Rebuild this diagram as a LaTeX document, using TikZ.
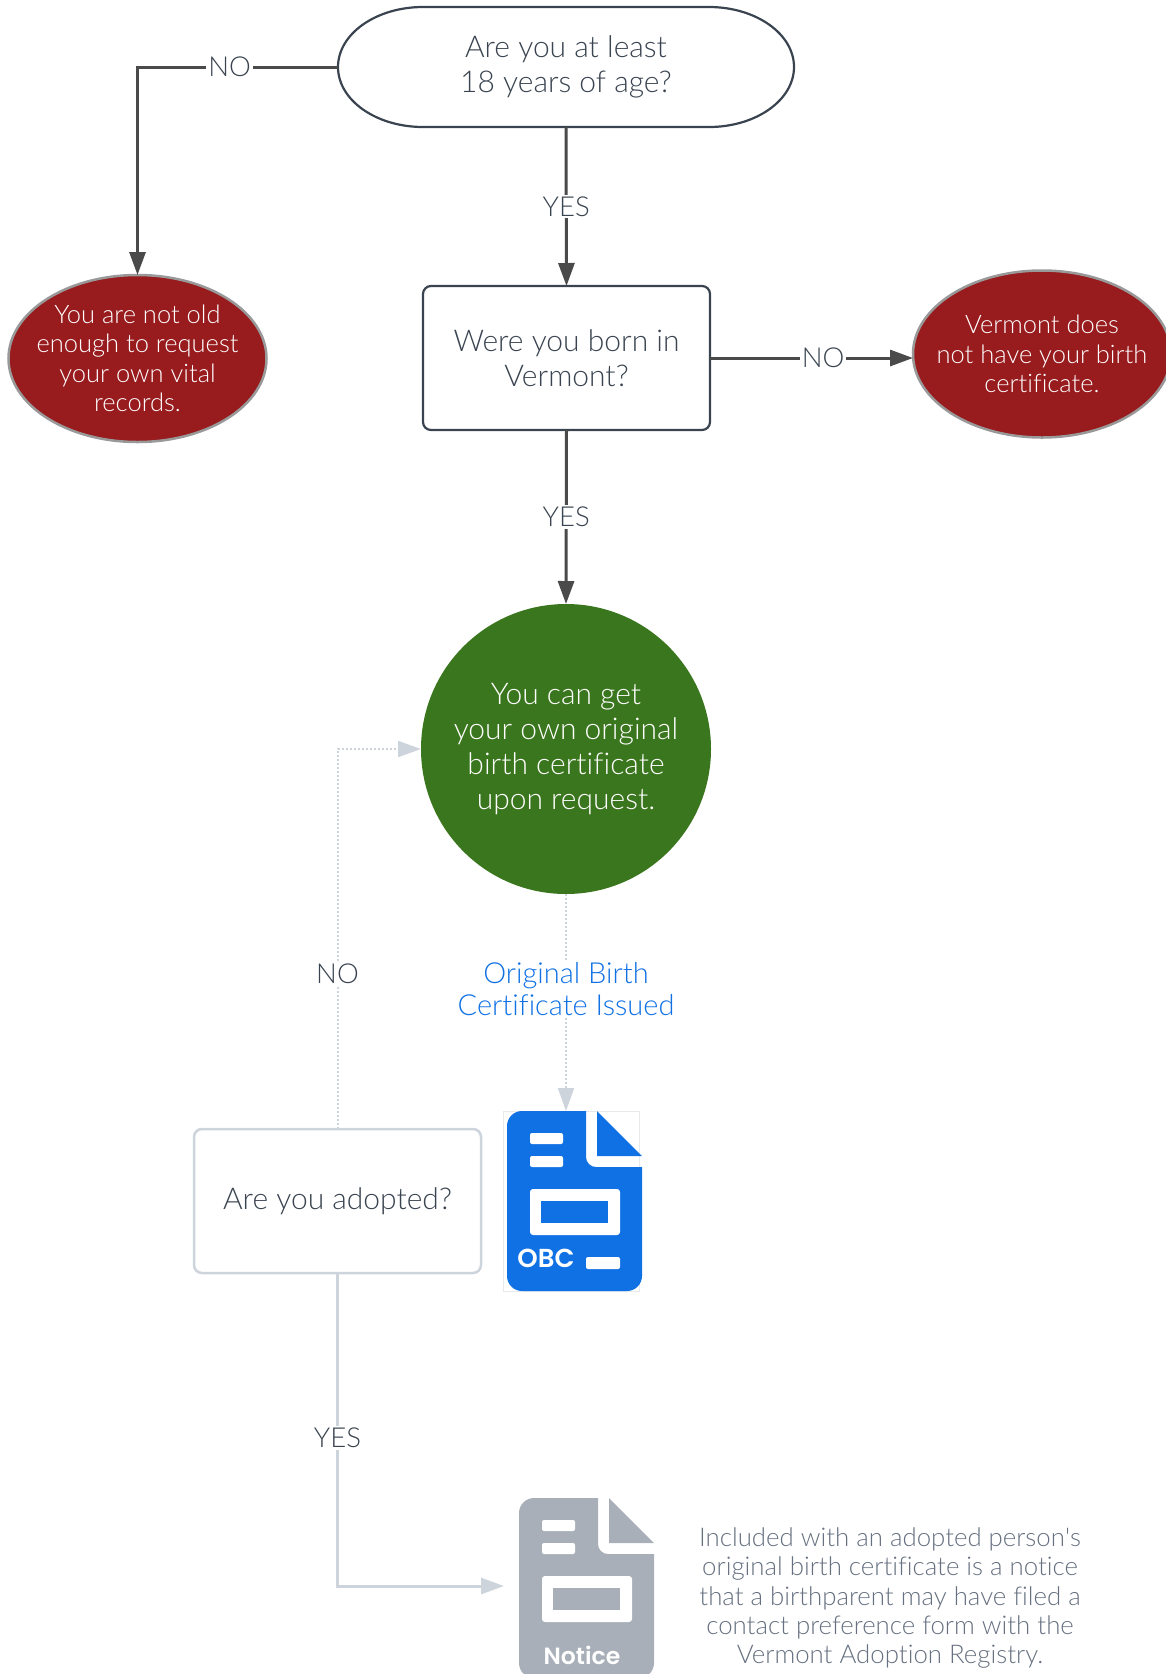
\documentclass[tikz,border=0pt]{standalone}
\usepackage{fontspec}
\setmainfont{Lato}[UprightFont=* Light,BoldFont=* Bold,Ligatures=NoCommon]
\newfontfamily\iconfont{Poppins}[UprightFont=* SemiBold]
\usetikzlibrary{arrows.meta,shapes.geometric}

\definecolor{inkdark}{HTML}{3A4450}
\definecolor{linedark}{HTML}{4A4A4A}
\definecolor{linelight}{HTML}{CED4DC}
\definecolor{redstop}{HTML}{981B1E}
\definecolor{greengo}{HTML}{3A761D}
\definecolor{blueobc}{HTML}{1071E5}
\definecolor{greydoc}{HTML}{A9AFB9}
\definecolor{greytext}{HTML}{667080}

\tikzset{
  question/.style={draw=inkdark, line width=2.2pt, rounded corners=8pt, fill=white, align=center,
    text=inkdark, minimum width=287pt, minimum height=144pt, inner sep=0pt, outer sep=0pt,
    font=\fontsize{30}{35}\selectfont},
  stopnode/.style={ellipse, draw=black!40, fill=redstop, line width=2.5pt, text=white, align=center,
    minimum width=258pt, minimum height=167pt, inner xsep=-30pt, inner ysep=-8pt, outer sep=0pt,
    font=\fontsize{25.5}{29.4}\selectfont},
  edgelabel/.style={fill=white, text=inkdark, inner sep=2pt, font=\fontsize{27.5}{30}\selectfont},
  darkline/.style={draw=linedark, line width=3pt, -{Triangle[length=23pt,width=16pt]}},
  lightline/.style={draw=linelight, line width=3pt, -{Triangle[length=23pt,width=16pt]}},
  dotline/.style={draw=linelight, line width=2pt, dotted, -{Triangle[length=23pt,width=16pt,fill=linelight]}},
}

\newcommand{\DocIcon}[3]{%
  \begin{scope}[shift={(#1,#2)}]
    \fill[#3] (0,90) [rounded corners=15pt] -- (0,0) [sharp corners] -- (79,0)
      [rounded corners=10pt] -- (79,56) [sharp corners] -- (135,56)
      [rounded corners=15pt] -- (135,180) -- (0,180) [sharp corners] -- cycle;
    \fill[#3] (90,0) -- (135,45) -- (90,45) -- cycle;
    \foreach \y in {22,45}
      \fill[white, rounded corners=2pt] (23,\y) rectangle (56,\y+11);
    \fill[white, rounded corners=3pt] (23,78) rectangle (113,124);
    \fill[#3] (34,90) rectangle (101,112);
  \end{scope}}

\begin{document}
\begin{tikzpicture}[x=1pt,y=-1pt]
\useasboundingbox (0,0) rectangle (1166,1674);

\node[question, draw=none, minimum width=456pt, minimum height=120pt, rounded corners=0pt] (age) at (566,67)
  {Are you at least\\18 years of age?};
\draw[draw=inkdark, line width=2.2pt] (age.north west) ++(85,0) -- ([xshift=-85pt]age.north east)
  arc[start angle=90, end angle=-90, x radius=85pt, y radius=60pt]
  -- ([xshift=85pt]age.south west)
  arc[start angle=270, end angle=90, x radius=85pt, y radius=60pt] -- cycle;
\node[question] (born) at (566.5,358) {Were you born in\\Vermont?};
\node[stopnode] (young) at (137.5,358.5) {You are not old\\enough to request\\your own vital\\records.};
\node[stopnode] (nocert) at (1042,354) {Vermont does\\not have your birth\\certificate.};
\node[circle, fill=greengo, text=white, align=center, minimum size=290pt, inner sep=-25pt, outer sep=0pt,
  font=\fontsize{30}{35}\selectfont] (issue) at (566,749)
  {You can get\\your own original\\birth certificate\\upon request.};
\node[question, draw=linelight, line width=2.5pt] (adopted) at (337.5,1201) {Are you adopted?};

% icons
\node[draw=linelight!50, line width=0.6pt, inner sep=0pt, outer sep=0pt, minimum width=136pt, minimum height=180pt] (obc) at (571,1201) {};
\DocIcon{507}{1111}{blueobc}
\fill[white, rounded corners=2pt] (586,1257) rectangle (620,1269);
\node[text=white, font=\fontsize{26}{30}\iconfont] (obclabel) at (546,1258) {OBC};
\DocIcon{519}{1498}{greydoc}
\node[text=white, font=\fontsize{23.5}{30}\iconfont] (noticelabel) at (582,1655) {Notice};
\coordinate (noticein) at (504,1586);

\node[text=greytext, align=center, font=\fontsize{25.8}{29.4}\selectfont] (notetext) at (890,1598)
  {Included with an adopted person\textquotesingle s\\original birth certificate is a notice\\that a birthparent may have filed a\\contact preference form with the\\Vermont Adoption Registry.};

% connectors
\draw[darkline] (age.west) -| (young.north) node[pos=0.27, edgelabel] (no1) {NO};
\draw[darkline] (age.south) -- (born.north) node[pos=0.5, edgelabel] (yes1) {YES};
\draw[darkline] (born.east) -- (born.east -| nocert.west) node[pos=0.557, edgelabel] (no2) {NO};
\draw[darkline] (born.south) -- (issue.north) node[pos=0.5, edgelabel] (yes2) {YES};
\draw[dotline] (adopted.north) |- (issue.west) node[pos=0.204, edgelabel] (no3) {NO};
\draw[dotline] (issue.south) -- (obc.north -| issue.south) node[pos=0.44, fill=white, text=blueobc, align=center,
  inner sep=2pt, font=\fontsize{29}{32}\selectfont] (obctext) {Original Birth\\Certificate Issued};
\draw[lightline] (adopted.south) |- (noticein) node[pos=0.263, edgelabel] (yes3) {YES};
\end{tikzpicture}
\end{document}
